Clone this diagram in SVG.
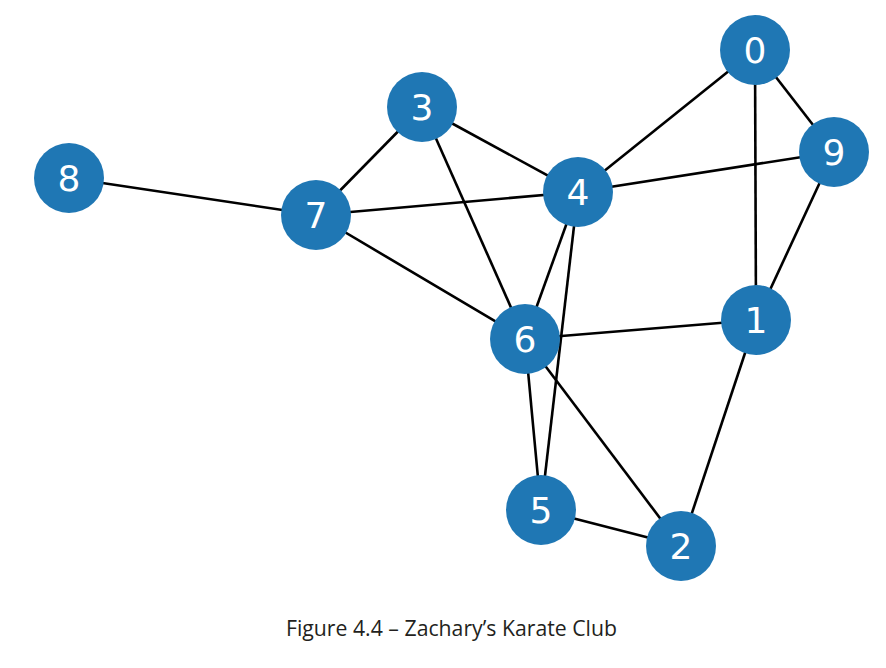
<svg xmlns="http://www.w3.org/2000/svg" width="886" height="668" viewBox="0 0 886 668">
<style>
.edge{stroke:#000;stroke-width:2.6;fill:none}
.node circle{fill:#1f77b4}
.node text{fill:#fff;font-family:"DejaVu Sans",sans-serif;font-size:36px;text-anchor:middle}
.caption{fill:#231f20;font-family:"Open Sans","Liberation Sans",sans-serif;font-size:21px}
</style>
<rect width="886" height="668" fill="#fff"/>
<g id="edges">
<line class="edge" x1="755" y1="50" x2="578" y2="192"/>
<line class="edge" x1="755" y1="50" x2="834" y2="152"/>
<line class="edge" x1="755" y1="50" x2="756" y2="320"/>
<line class="edge" x1="834" y1="152" x2="578" y2="192"/>
<line class="edge" x1="834" y1="152" x2="756" y2="320"/>
<line class="edge" x1="422" y1="107" x2="316" y2="215"/>
<line class="edge" x1="422" y1="107" x2="578" y2="192"/>
<line class="edge" x1="422" y1="107" x2="525" y2="339"/>
<line class="edge" x1="69" y1="178" x2="316" y2="215"/>
<line class="edge" x1="316" y1="215" x2="578" y2="192"/>
<line class="edge" x1="316" y1="215" x2="525" y2="339"/>
<line class="edge" x1="578" y1="192" x2="525" y2="339"/>
<line class="edge" x1="578" y1="192" x2="541" y2="510"/>
<line class="edge" x1="525" y1="339" x2="756" y2="320"/>
<line class="edge" x1="525" y1="339" x2="541" y2="510"/>
<line class="edge" x1="525" y1="339" x2="681" y2="546"/>
<line class="edge" x1="541" y1="510" x2="681" y2="546"/>
<line class="edge" x1="756" y1="320" x2="681" y2="546"/>
</g>
<g id="node0" class="node"><circle cx="755" cy="50" r="35"/><text x="755" y="63">0</text></g>
<g id="node1" class="node"><circle cx="756" cy="320" r="35"/><text x="756" y="333">1</text></g>
<g id="node2" class="node"><circle cx="681" cy="546" r="35"/><text x="681" y="559">2</text></g>
<g id="node3" class="node"><circle cx="422" cy="107" r="35"/><text x="422" y="120">3</text></g>
<g id="node4" class="node"><circle cx="578" cy="192" r="35"/><text x="578" y="205">4</text></g>
<g id="node5" class="node"><circle cx="541" cy="510" r="35"/><text x="541" y="523">5</text></g>
<g id="node6" class="node"><circle cx="525" cy="339" r="35"/><text x="525" y="352">6</text></g>
<g id="node7" class="node"><circle cx="316" cy="215" r="35"/><text x="316" y="228">7</text></g>
<g id="node8" class="node"><circle cx="69" cy="178" r="35"/><text x="69" y="191">8</text></g>
<g id="node9" class="node"><circle cx="834" cy="152" r="35"/><text x="834" y="165">9</text></g>
<text class="caption" x="286" y="636" textLength="331" lengthAdjust="spacingAndGlyphs">Figure 4.4 – Zachary’s Karate Club</text>
</svg>
